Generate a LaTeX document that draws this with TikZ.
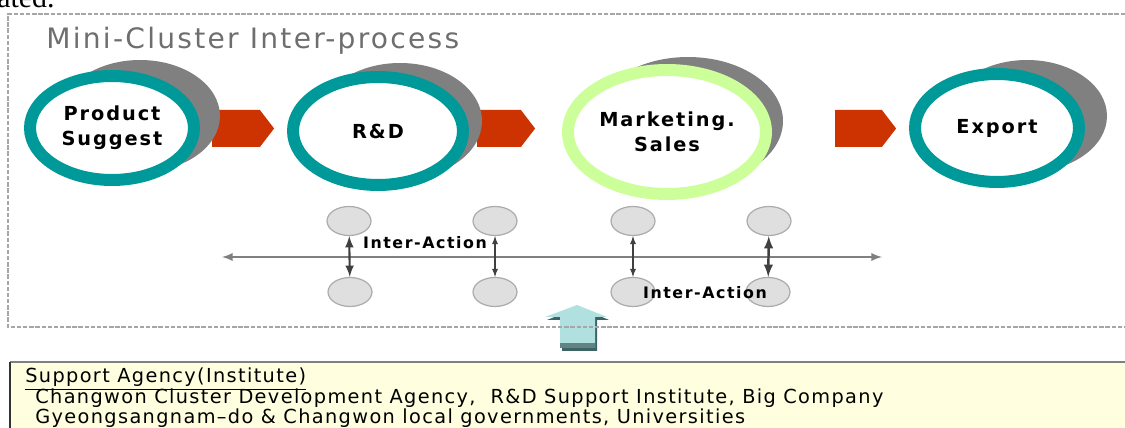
\documentclass[tikz,border=0pt]{standalone}
\usepackage{fontspec}
\setmainfont{DejaVu Sans}
\newfontfamily\pagefont{Liberation Serif}
\usetikzlibrary{shapes.geometric,shapes.symbols}
\definecolor{clusterTeal}{RGB}{0,153,153}
\definecolor{clusterLime}{RGB}{204,255,153}
\definecolor{clusterShadow}{RGB}{128,128,128}
\definecolor{clusterRed}{RGB}{204,51,0}
\definecolor{clusterTitle}{RGB}{110,110,110}
\definecolor{supportBlue}{RGB}{176,224,224}
\definecolor{supportDark}{RGB}{60,100,100}
\definecolor{supportYellow}{RGB}{255,255,224}

\begin{document}
\begin{tikzpicture}[x=0.02cm, y=-0.02cm,
    ring/.style={ellipse, draw=clusterTeal, line width=0.24cm, fill=white, inner sep=0pt, align=center, font=\bfseries\fontsize{11}{14}\selectfont\addfontfeature{LetterSpace=10}},
    ringshadow/.style={ellipse, fill=clusterShadow, inner sep=0pt},
    flow/.style={signal, signal to=east, signal pointer angle=105, fill=clusterRed, inner sep=0pt, minimum height=0.74cm},
    member/.style={ellipse, draw=gray!65, line width=0.7pt, fill=gray!25, minimum width=0.88cm, minimum height=0.58cm, inner sep=0pt},
    vlink/.style={<->, >=latex, draw=black!75},
    actlabel/.style={font=\bfseries\fontsize{9}{10}\selectfont\addfontfeature{LetterSpace=10}, inner sep=0pt},
    suptext/.style={anchor=west, inner sep=0pt, font=\fontsize{11}{12}\selectfont\addfontfeature{LetterSpace=7}}]
    \useasboundingbox (0,0) rectangle (1125,428);
    \clip (0,0) rectangle (1125,428);
    \node[anchor=base west, inner sep=0pt, font=\pagefont\fontsize{17}{20}\selectfont] (pagetext) at (-3,8) {ated.};
    % mini-cluster frame
    \node[anchor=west, inner sep=0pt, text=clusterTitle, font=\fontsize{16}{18}\selectfont\addfontfeature{LetterSpace=8}] (title) at (46,41) {Mini-Cluster Inter-process};
    \node[flow, minimum width=1.24cm] (go1) at (236,128.5) {};
    \node[flow, minimum width=1.16cm] (go2) at (499,128.5) {};
    \node[flow, minimum width=1.22cm] (go3) at (858.5,128.5) {};
    \node[ringshadow, minimum width=3.20cm, minimum height=2.24cm] (prodsh) at (140,116) {};
    \node[ring, minimum width=3.28cm, minimum height=2.08cm] (prod) at (112,128) {Product\\Suggest};
    \node[ringshadow, minimum width=3.28cm, minimum height=2.32cm] (rdsh) at (400,121) {};
    \node[ring, minimum width=3.40cm, minimum height=2.16cm] (rd) at (378,131) {R\&D};
    \node[ringshadow, minimum width=3.80cm, minimum height=2.56cm] (mktsh) at (688,121) {};
    \node[ring, draw=clusterLime, minimum width=3.96cm, minimum height=2.48cm] (mkt) at (667,132) {Marketing.\\Sales};
    \node[ringshadow, minimum width=3.20cm, minimum height=2.24cm] (expsh) at (1027,116) {};
    \node[ring, minimum width=3.28cm, minimum height=2.16cm] (exp) at (997,128) {Export};
    % inter-action members
    \coordinate (lineL) at (222,257);
    \coordinate (lineR) at (882,257);
    \draw[<->, >=latex, draw=clusterShadow, line width=1.1pt] (lineL) -- (lineR);
    \node[member] (t1) at (349,221) {};
    \node[member] (t2) at (495,221) {};
    \node[member] (t3) at (633,221) {};
    \node[member] (t4) at (769,221) {};
    \node[member] (b1) at (350,292) {};
    \node[member] (b2) at (495,292) {};
    \node[member] (b3) at (633,292) {};
    \node[member] (b4) at (768,292) {};
    \draw[vlink, line width=1.2pt] (t1) -- (b1);
    \draw[vlink, line width=0.6pt] (t2) -- (b2);
    \draw[vlink, line width=0.6pt] (t3) -- (b3);
    \draw[vlink, line width=1.4pt] (t4) -- (b4);
    \node[actlabel] (act1) at (425,243) {Inter-Action};
    \node[actlabel] (act2) at (705,293) {Inter-Action};
    % support arrow
    \fill[supportDark] (562,351) -- (562,320) -- (547,320) -- (579,307) -- (609,320) -- (597,320) -- (597,351) -- cycle;
    \fill[supportBlue] (560,348) -- (560,317) -- (545,317) -- (577,305) -- (607,317) -- (595,317) -- (595,348) -- cycle;
    \fill[supportDark!80] (560,343) rectangle (595,348);
    \draw[gray!70, line width=1.2pt, dash pattern=on 2.5pt off 1pt] (1125,14) -- (8,14) -- (8,327) -- (1125,327);
    % support agency box
    \fill[supportYellow] (10,362) rectangle (1125,428);
    \draw[gray, line width=1.2pt] (10,362) -- (1125,362);
    \draw[black!80, line width=0.6pt] (10,362) -- (10,428);
    \node[suptext] (suphead) at (25,379) {\underline{Support Agency(Institute)}};
    \node[suptext] (supone) at (35,398) {Changwon Cluster Development Agency,~ R\&D Support Institute, Big Company};
    \node[suptext] (suptwo) at (35,418) {Gyeongsangnam--do \& Changwon local governments, Universities};
\end{tikzpicture}
\end{document}
